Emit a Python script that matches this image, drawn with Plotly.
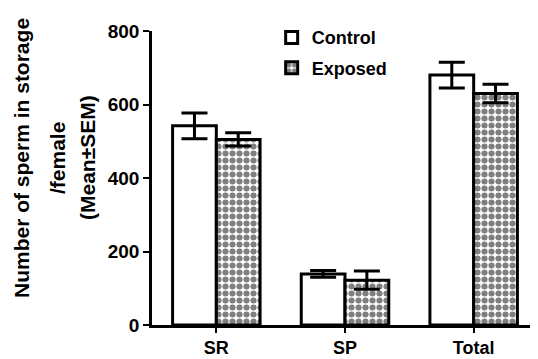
import plotly.graph_objects as go

categories = ["SR", "SP", "Total"]
control = [542, 139, 680]
control_sem = [35, 9, 35]
exposed = [505, 122, 630]
exposed_sem = [18, 25, 25]

FONT = "Liberation Sans, Arial, sans-serif"

fig = go.Figure()
fig.add_trace(go.Bar(
    x=categories, y=control, name="Control",
    legendgroup="a",
    marker=dict(color="white", line=dict(color="black", width=3)),
    error_y=dict(type="data", array=control_sem, visible=True,
                 color="black", thickness=3, width=13),
))
fig.add_trace(go.Bar(
    x=categories, y=exposed, name="Exposed",
    legendgroup="b",
    marker=dict(color="white", line=dict(color="black", width=3),
                pattern=dict(shape=".", fgcolor="black", bgcolor="white",
                             size=7, solidity=0.6)),
    error_y=dict(type="data", array=exposed_sem, visible=True,
                 color="black", thickness=3, width=13),
))

fig.update_layout(
    width=530, height=351,
    margin=dict(l=144, r=0, t=23, b=34),
    paper_bgcolor="white", plot_bgcolor="white",
    barmode="group", bargap=0.32, bargroupgap=0,
    font=dict(family=FONT, color="black", size=18, weight="bold"),
    showlegend=True,
    legend=dict(x=0.31, y=1.04, xanchor="left", yanchor="top",
                traceorder="grouped", tracegroupgap=4,
                font=dict(size=18, family=FONT, weight="bold"),
                bgcolor="rgba(0,0,0,0)"),
    xaxis=dict(range=[-0.5, 2.5], showline=True, linecolor="black", linewidth=2.5,
               ticks="outside", ticklen=5, tickwidth=2, tickcolor="black",
               tickfont=dict(size=18, family=FONT, weight="bold"),
               showgrid=False, zeroline=False, automargin=False),
    yaxis=dict(range=[0, 800], tickvals=[0, 200, 400, 600, 800],
               showline=True, linecolor="black", linewidth=2.5,
               ticks="outside", ticklen=6, tickwidth=2, tickcolor="black",
               tickfont=dict(size=19, family=FONT, weight="bold"),
               showgrid=False, zeroline=False, automargin=False),
)

title_lines = ["Number of sperm in storage", "/female", "(Mean±SEM)"]
title_x = [21, 57, 87]
for txt, px in zip(title_lines, title_x):
    fig.add_annotation(text=txt, textangle=-90, xref="paper", yref="paper",
                       x=(px - 152) / 386, y=(325 - 158) / 294,
                       xanchor="center", yanchor="middle", showarrow=False,
                       font=dict(size=21, family=FONT, weight="bold"))

fig.write_html("out.html")
